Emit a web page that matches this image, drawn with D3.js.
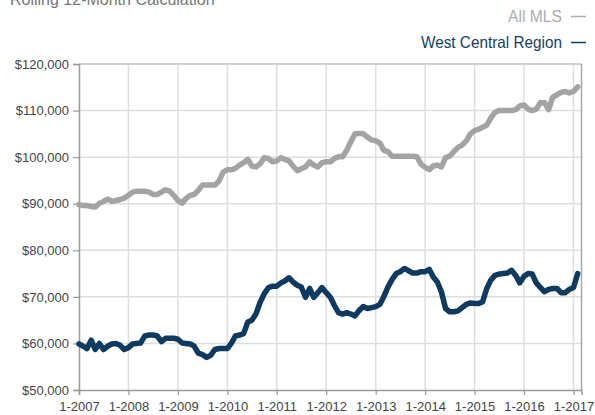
<!DOCTYPE html>
<html>
<head>
<meta charset="utf-8">
<script src="https://cdn.jsdelivr.net/npm/d3@7/dist/d3.min.js"></script>
<style>
  html, body { margin: 0; padding: 0; background: #fff; }
  svg { display: block; font-family: "Liberation Sans", Arial, sans-serif; }
</style>
</head>
<body>
<svg id="chart" width="595" height="415"></svg>
<script>
// ---- data (monthly, Jan 2007 .. Feb 2017) ----
const startMonth = "2007-01";
const allMLS = [
  89800, 89600, 89600, 89400, 89300, 90100, 90500, 91000, 90500, 90700, 90900, 91200,
  91800, 92500, 92700, 92700, 92700, 92500, 92000, 92000, 92500, 93000, 92700, 91800,
  90700, 90100, 91100, 91800, 92000, 92900, 94000, 94000, 94000, 94000, 94900, 96800,
  97300, 97300, 97600, 98300, 98800, 99500, 98100, 97900, 98600, 99900, 99700, 99000,
  99200, 99900, 99500, 99200, 98100, 97100, 97500, 97900, 99000, 98300, 97900, 98800,
  99000, 99000, 99700, 100100, 100100, 101500, 103300, 105000, 105100, 105000, 104300, 103700,
  103500, 103000, 101500, 101200, 100200, 100200, 100200, 100200, 100200, 100200, 100100, 98500,
  97800, 97300, 98100, 98300, 97900, 99900, 100200, 101200, 102100, 102600, 103500, 105000,
  105700, 106000, 106400, 106900, 108400, 109600, 110000, 110000, 110000, 110000, 110200, 111000,
  111200, 110300, 110000, 110300, 111700, 111700, 110200, 112900, 113400, 113900, 114100, 113800,
  114100, 115100
];
const westCentral = [
  59900, 59400, 58900, 60700, 58700, 60000, 58700, 59400, 59900, 60000, 59600, 58700,
  59100, 59900, 60000, 60100, 61600, 61800, 61800, 61600, 60400, 61100, 61100, 61100,
  60900, 60100, 60000, 59900, 59400, 57900, 57600, 57000, 57500, 58700, 58900, 58900,
  58900, 60100, 61600, 61800, 62100, 64600, 65000, 66400, 68900, 70700, 72000, 72300,
  72300, 73000, 73400, 74100, 73200, 72500, 72100, 69900, 71800, 69900, 70900, 72000,
  70900, 69900, 68200, 66600, 66300, 66600, 66300, 65900, 67100, 67900, 67500, 67700,
  67900, 68400, 70000, 72100, 73700, 75000, 75400, 76100, 75600, 75100, 75100, 75400,
  75400, 75900, 74300, 73200, 71100, 67500, 66800, 66800, 67000, 67700, 68400, 68700,
  68600, 68600, 68900, 71800, 73600, 74600, 74900, 75000, 75100, 75700, 74600, 73000,
  74400, 75000, 74900, 73000, 72000, 71100, 71600, 71800, 71800, 70900, 70900, 71600,
  72000, 75000
];
const yTicks = [50000, 60000, 70000, 80000, 90000, 100000, 110000, 120000];
const xTickYears = [2007, 2008, 2009, 2010, 2011, 2012, 2013, 2014, 2015, 2016, 2017];
const titleText = "Rolling 12-Month Calculation";
const seriesNames = ["All MLS", "West Central Region"];

(function () {
// ---- layout ----
const svg = d3.select("#chart");
const mLeft = 79, mRight = 581.5, mTop = 64, mBottom = 390;

const parse = d3.timeParse("%Y-%m");
const t0 = parse(startMonth);
const dates = allMLS.map((_, i) => d3.timeMonth.offset(t0, i));
const xEnd = d3.timeMonth.offset(t0, allMLS.length); // Mar 2017

const x = d3.scaleTime().domain([t0, xEnd]).range([mLeft, mRight]);
const y = d3.scaleLinear().domain([50000, 120000]).range([mBottom, mTop]);

// grid
const g = svg.append("g");
g.selectAll("line.hg").data(yTicks.slice(1)).enter().append("line")
  .attr("x1", mLeft).attr("x2", mRight)
  .attr("y1", d => y(d)).attr("y2", d => y(d))
  .attr("stroke", "#dedede").attr("stroke-width", 1.5);
g.selectAll("line.vg").data(xTickYears.slice(1)).enter().append("line")
  .attr("x1", d => x(new Date(d, 0, 1))).attr("x2", d => x(new Date(d, 0, 1)))
  .attr("y1", mTop).attr("y2", mBottom)
  .attr("stroke", "#dedede").attr("stroke-width", 1.5);

// frame (top & right)
svg.append("line").attr("x1", mLeft).attr("x2", mRight).attr("y1", mTop).attr("y2", mTop)
  .attr("stroke", "#c8c8c8").attr("stroke-width", 1.5);
svg.append("line").attr("x1", mRight).attr("x2", mRight).attr("y1", mTop).attr("y2", mBottom)
  .attr("stroke", "#a8a8a8").attr("stroke-width", 1.5);

// axes
const yAxis = d3.axisLeft(y).tickValues(yTicks).tickSize(6).tickPadding(4)
  .tickFormat(d => "$" + d3.format(",")(d));
const ya = svg.append("g").attr("transform", `translate(${mLeft},0)`).call(yAxis);
ya.select(".domain").attr("stroke", "#9a9a9a").attr("stroke-width", 1.5);
ya.selectAll(".tick line").attr("stroke", "#9a9a9a").attr("stroke-width", 1.2);
ya.selectAll(".tick text").attr("fill", "#444").style("font-size", "13px")
  .style("font-family", "'Liberation Sans', Arial, sans-serif");

const xAxis = d3.axisBottom(x).tickValues(xTickYears.map(d => new Date(d, 0, 1)))
  .tickSize(5).tickPadding(7).tickFormat(d => "1-" + d.getFullYear());
const xa = svg.append("g").attr("transform", `translate(0,${mBottom})`).call(xAxis);
xa.select(".domain").attr("stroke", "#9a9a9a").attr("stroke-width", 1.5);
xa.selectAll(".tick line").attr("stroke", "#9a9a9a").attr("stroke-width", 1.2);
xa.selectAll(".tick text").attr("fill", "#444").style("font-size", "13px")
  .style("font-family", "'Liberation Sans', Arial, sans-serif");

// lines
const line = d3.line().x((d, i) => x(dates[i])).y(d => y(d)).curve(d3.curveLinear);
svg.append("path").datum(allMLS).attr("d", line)
  .attr("fill", "none").attr("stroke", "#a3a3a3").attr("stroke-width", 5.5)
  .attr("stroke-linejoin", "round").attr("stroke-linecap", "round");
svg.append("path").datum(westCentral).attr("d", line)
  .attr("fill", "none").attr("stroke", "#0f3a5f").attr("stroke-width", 5.5)
  .attr("stroke-linejoin", "round").attr("stroke-linecap", "round");

// title (partially cut off at top, as in the reference)
svg.append("text").attr("x", 10).attr("y", 5).text(titleText)
  .attr("fill", "#777").style("font-size", "16px");

// legend
const legend = [
  { name: seriesNames[0], color: "#adadad", y: 22, w: 54 },
  { name: seriesNames[1], color: "#173e60", y: 48, w: 141 }
];
legend.forEach(l => {
  svg.append("text").attr("x", 562).attr("y", l.y).attr("text-anchor", "end")
    .attr("fill", l.color).style("font-size", "16.5px")
    .attr("textLength", l.w).attr("lengthAdjust", "spacingAndGlyphs")
    .text(l.name);
  svg.append("line").attr("x1", 571).attr("x2", 586)
    .attr("y1", l.y - 5.5).attr("y2", l.y - 5.5)
    .attr("stroke", l.color).attr("stroke-width", 1.5);
});
})();
</script>
</body>
</html>
